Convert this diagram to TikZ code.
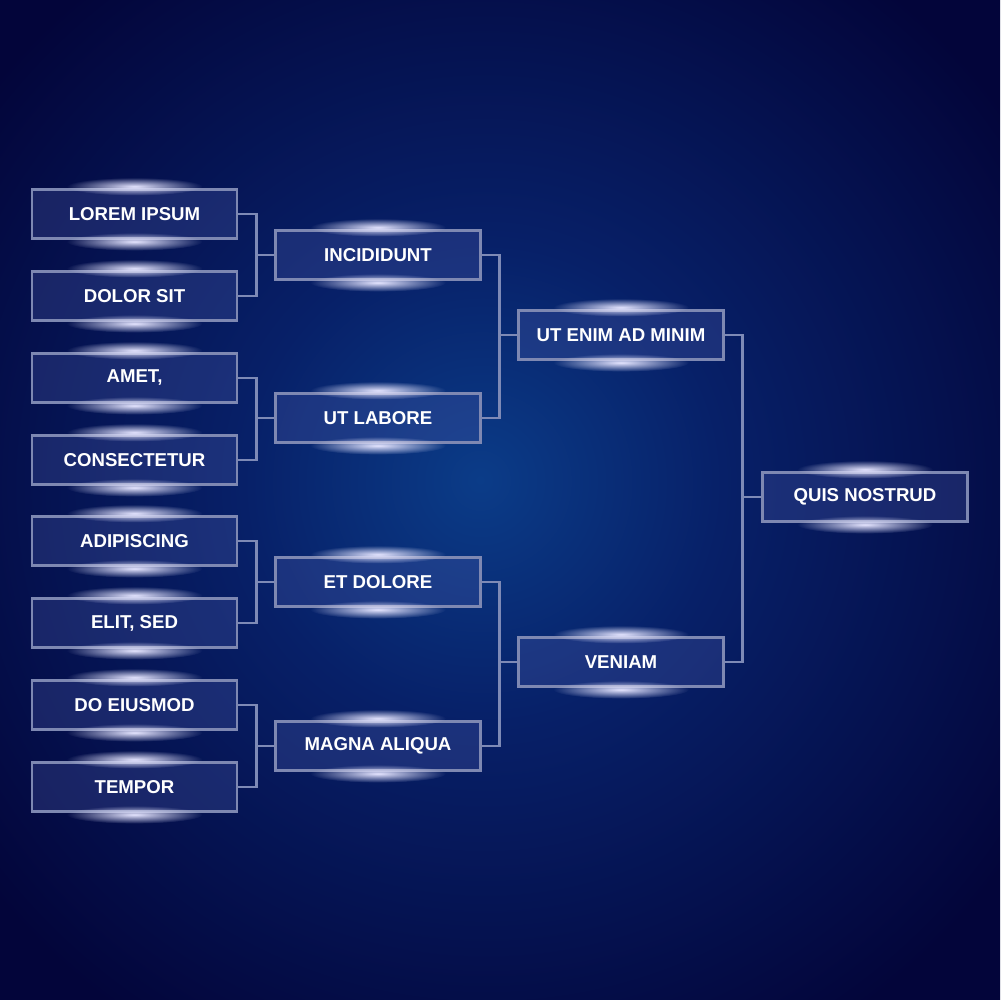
\documentclass[tikz,border=0pt]{standalone}
\usepackage{fontspec}
\setmainfont{Liberation Sans}
\usetikzlibrary{fadings}

\definecolor{bgdark}{HTML}{03053A}
\definecolor{bgmid}{HTML}{072068}
\definecolor{bglight}{HTML}{0B3C88}
\definecolor{boxfill}{HTML}{5060B0}
\definecolor{boxline}{HTML}{7E88B2}
\definecolor{linkline}{HTML}{7E8AB6}

\pgfdeclareradialshading{bgglow}{\pgfpoint{-1bp}{1bp}}{color(0bp)=(bglight); color(12bp)=(bgmid); color(32bp)=(bgdark); color(80bp)=(bgdark)}
\tikzfading[name=glowfade, inner color=transparent!0, outer color=transparent!100]

\begin{document}
\begin{tikzpicture}[
    x=0.02cm, y=-0.02cm,
    team/.style={rectangle, draw=boxline, line width=1.5pt, fill=boxfill, fill opacity=0.28, draw opacity=1, text opacity=1, text=white, minimum width=4.1cm, minimum height=0.98cm, inner sep=0pt, font=\bfseries\fontsize{10.6}{12}\selectfont},
    link/.style={draw=linkline, line width=1.6pt},
    glow/.style={white!90!blue, path fading=glowfade}
]

% Background
\shade[shading=bgglow] (0,0) rectangle (1000,1000);

% First round
\node[team] (lorem) at (134.5,214) {LOREM IPSUM};
\node[team] (dolor) at (134.5,296) {DOLOR SIT};
\node[team] (amet) at (134.5,378) {AMET,};
\node[team] (consec) at (134.5,460) {CONSECTETUR};
\node[team] (adipis) at (134.5,541) {ADIPISCING};
\node[team] (elit) at (134.5,623) {ELIT, SED};
\node[team] (eiusmod) at (134.5,705) {DO EIUSMOD};
\node[team] (tempor) at (134.5,787) {TEMPOR};

% Second round
\node[team] (incid) at (378,255) {INCIDIDUNT};
\node[team] (labore) at (378,418) {UT LABORE};
\node[team] (dolore) at (378,582) {ET DOLORE};
\node[team] (magna) at (378,746) {MAGNA ALIQUA};

% Semi finals
\node[team] (enim) at (621,335) {UT ENIM AD MINIM};
\node[team] (veniam) at (621,662) {VENIAM};

% Final
\node[team] (quis) at (865,497) {QUIS NOSTRUD};

% Brackets
\draw[link] (lorem.east) -- ++(18,0) |- (incid.west);
\draw[link] (dolor.east) -- ++(18,0) |- (incid.west);
\draw[link] (amet.east) -- ++(18,0) |- (labore.west);
\draw[link] (consec.east) -- ++(18,0) |- (labore.west);
\draw[link] (adipis.east) -- ++(18,0) |- (dolore.west);
\draw[link] (elit.east) -- ++(18,0) |- (dolore.west);
\draw[link] (eiusmod.east) -- ++(18,0) |- (magna.west);
\draw[link] (tempor.east) -- ++(18,0) |- (magna.west);
\draw[link] (incid.east) -- ++(18,0) |- (enim.west);
\draw[link] (labore.east) -- ++(18,0) |- (enim.west);
\draw[link] (dolore.east) -- ++(18,0) |- (veniam.west);
\draw[link] (magna.east) -- ++(18,0) |- (veniam.west);
\draw[link] (enim.east) -- ++(18,0) |- (quis.west);
\draw[link] (veniam.east) -- ++(18,0) |- (quis.west);

% Glows on the boxes
\foreach \n in {lorem,dolor,amet,consec,adipis,elit,eiusmod,tempor,incid,labore,dolore,magna,enim,veniam,quis} {
  \fill[glow] ([yshift=1pt]\n.north) ellipse (68 and 9);
  \fill[glow] ([yshift=-1pt]\n.south) ellipse (68 and 9);
}

\end{tikzpicture}
\end{document}
